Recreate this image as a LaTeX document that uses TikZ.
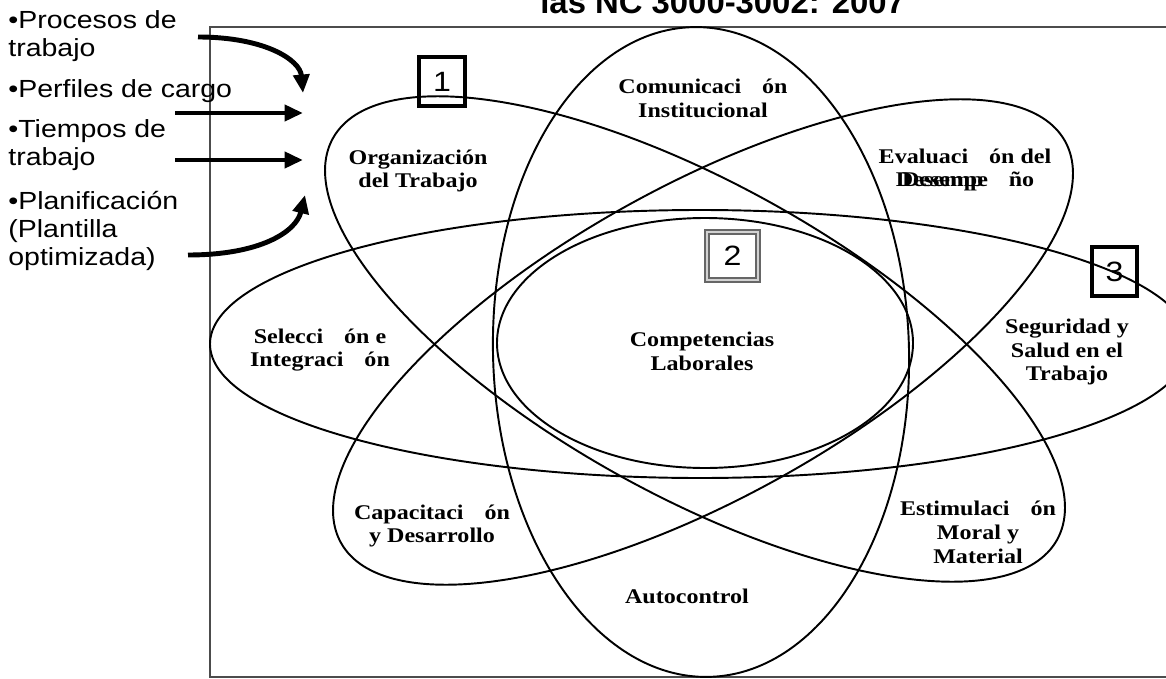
\documentclass[tikz,border=0pt]{standalone}
\usepackage{fontspec}
\usetikzlibrary{arrows.meta}
\newfontfamily\arialfont{Liberation Sans}[FakeStretch=1.15]
\newfontfamily\titlefont{Liberation Sans}
\newfontfamily\timesfont{Liberation Serif}[FakeStretch=1.15]
\newcommand\gapp{\hspace{1em}}
\tikzstyle{ring} = [draw, line width=1.1pt]
\tikzstyle{area} = [font=\timesfont\bfseries\fontsize{11.9}{13.6}\selectfont,
    align=center, inner sep=0pt]
\tikzstyle{input} = [font=\arialfont\fontsize{14.1}{15.9}\selectfont,
    align=left, anchor=north west, inner sep=0pt]
\tikzstyle{feed} = [draw, line width=2.8pt, -{Triangle[length=10.5pt,width=9pt]}]
\tikzstyle{numbox} = [draw, line width=2.2pt, inner sep=0pt,
    font=\arialfont\fontsize{15.9}{18}\selectfont]

\begin{document}
\begin{tikzpicture}[x=0.02cm, y=-0.02cm]
  \useasboundingbox (0,0) rectangle (1166,679);
  % Frame and title
  \draw[black!70, line width=0.8pt] (210,27) rectangle (1190,677);
  \node[anchor=base west, inner sep=0pt, font=\titlefont\bfseries\fontsize{18.7}{20}\selectfont]
    (title) at (540,14) {las NC 3000-3002: 2007};

  % Ellipses
  \draw[ring, rotate around={-29:(695,339)}] (695,339) ellipse [x radius=414, y radius=156];
  \draw[ring, rotate around={29:(703,342)}] (703,342) ellipse [x radius=414, y radius=156];
  \draw[ring, rotate around={1.5:(701,352)}] (701,352) ellipse [x radius=208, y radius=325];
  \draw[ring] (700,344) ellipse [x radius=490, y radius=134];
  \draw[ring] (705,343) ellipse [x radius=208, y radius=125];

  % Areas
  \node[area] (org)  at (418,171) {Organización\\del Trabajo};
  \node[area] (com)  at (703,98)  {Comunicaci\gapp ón\\Institucional};
  \node[area] (eva)  at (965,170) {Evaluaci\gapp ón del\\\rlap{\hspace{0.3em}Desemp}Desempe\gapp ño};
  \node[area] (sel)  at (320,350) {Selecci\gapp ón e\\Integraci\gapp ón};
  \node[area] (comp) at (702,351) {Competencias\\Laborales};
  \node[area] (seg)  at (1067,352) {Seguridad y\\Salud en el\\Trabajo};
  \node[area] (cap)  at (432,526) {Capacitaci\gapp ón\\y Desarrollo};
  \node[area] (est)  at (978,532) {Estimulaci\gapp ón\\Moral y\\Material};
  \node[area] (auto) at (687,596) {Autocontrol};

  % Numbered boxes
  \node[numbox, minimum width=0.92cm, minimum height=0.98cm] (n1) at (442,81.5) {1};
  \node[draw=black!60, double=gray!35, double distance=1.5pt, line width=0.7pt, inner sep=0pt,
    minimum width=1.02cm, minimum height=0.96cm, font=\arialfont\fontsize{15.9}{18}\selectfont]
    (n2) at (732.5,256) {2};
  \node[numbox, minimum width=0.9cm, minimum height=0.98cm] (n3) at (1114.5,271.5) {3};

  % Inputs
  \node[input] (proc) at (8,10)  {•Procesos de\\trabajo};
  \node[input] (perf) at (8,79)  {•Perfiles de cargo};
  \node[input] (tiem) at (8,119) {•Tiempos de\\trabajo};
  \node[input] (plan) at (8,191) {•Planificación\\(Plantilla\\optimizada)};

  \coordinate (proc-out) at (198,37);
  \coordinate (proc-in)  at (303,93);
  \coordinate (perf-out) at (175,113);
  \coordinate (perf-in)  at (303,113);
  \coordinate (tiem-out) at (175,160);
  \coordinate (tiem-in)  at (303,160);
  \coordinate (plan-out) at (188,255);
  \coordinate (plan-in)  at (305,195);

  % Draw arrows
  \path [feed] (proc-out) .. controls (265,37) and (300,60) .. (proc-in);
  \path [feed] (perf-out) -- (perf-in);
  \path [feed] (tiem-out) -- (tiem-in);
  \path [feed] (plan-out) .. controls (260,255) and (296,232) .. (plan-in);
\end{tikzpicture}
\end{document}
